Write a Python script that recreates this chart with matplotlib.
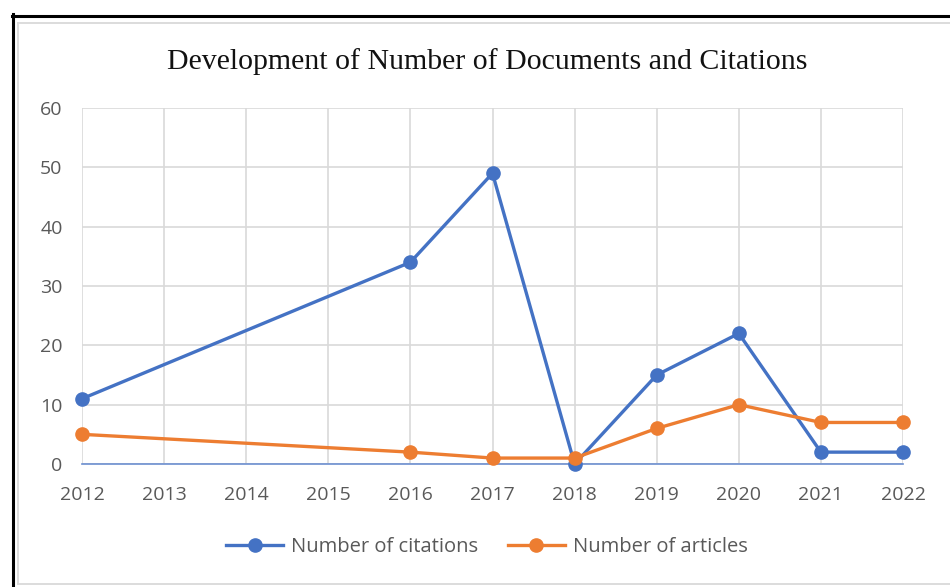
import matplotlib.pyplot as plt
from matplotlib.lines import Line2D

years = [2012, 2016, 2017, 2018, 2019, 2020, 2021, 2022]
citations = [11, 34, 49, 0, 15, 22, 2, 2]
articles = [5, 2, 1, 1, 6, 10, 7, 7]
year_ticks = list(range(2012, 2023))
y_ticks = [0, 10, 20, 30, 40, 50, 60]

blue = "#4472C4"
orange = "#ED7D31"
grid = "#D9D9D9"
text_col = "#595959"

fig = plt.figure(figsize=(9.5, 5.87), dpi=100)
W, H = 950, 587

# frame lines of the screenshot
fig.add_artist(Line2D([12.5 / W, 12.5 / W], [0, 1 - 14 / H], color="black", lw=2.2))
fig.add_artist(Line2D([12 / W, 1], [1 - 15.5 / H, 1 - 15.5 / H], color="black", lw=2.2))
fig.add_artist(Line2D([18 / W, 18 / W], [1 - 583.5 / H, 1 - 22.5 / H], color=grid, lw=1.3))
fig.add_artist(Line2D([18 / W, 1], [1 - 22.5 / H, 1 - 22.5 / H], color=grid, lw=1.3))
fig.add_artist(Line2D([18 / W, 1], [1 - 583.5 / H, 1 - 583.5 / H], color=grid, lw=1.3))

ax = fig.add_axes([82 / W, 1 - 464 / H, (903 - 82) / W, (464 - 108) / H])

ax.plot(years, citations, color=blue, lw=2.4, marker="o", markersize=9.5,
        label="Number of citations", zorder=3, clip_on=False)
ax.plot(years, articles, color=orange, lw=2.4, marker="o", markersize=9.5,
        label="Number of articles", zorder=3, clip_on=False)

ax.set_xlim(2012, 2022)
ax.set_ylim(0, 60)
ax.set_xticks(year_ticks)
ax.set_xticklabels([str(y) for y in year_ticks])
ax.set_yticks(y_ticks)
ax.grid(True, color=grid, lw=1.2)
ax.set_axisbelow(True)
for s in ["top", "right", "left"]:
    ax.spines[s].set_visible(False)
ax.spines["bottom"].set_color("#6C8FD0")
ax.spines["bottom"].set_linewidth(1.2)
ax.tick_params(length=0, labelsize=14, labelcolor=text_col)
ax.tick_params(axis="x", pad=15.5)
ax.tick_params(axis="y", pad=14)
for lab in ax.get_xticklabels() + ax.get_yticklabels():
    lab.set_family("Open Sans")

fig.text(487 / W, 1 - 62 / H, "Development of Number of Documents and Citations",
         ha="center", va="center", fontsize=21.5, family="Liberation Serif", color="#111111")

fig.legend(loc="center", bbox_to_anchor=(487 / W, 1 - 547 / H), ncol=2, frameon=False,
           prop={"family": "Open Sans", "size": 14.5}, labelcolor=text_col,
           handlelength=2.8, columnspacing=1.5, handletextpad=0.4)

fig.savefig("out.png", dpi=100)
